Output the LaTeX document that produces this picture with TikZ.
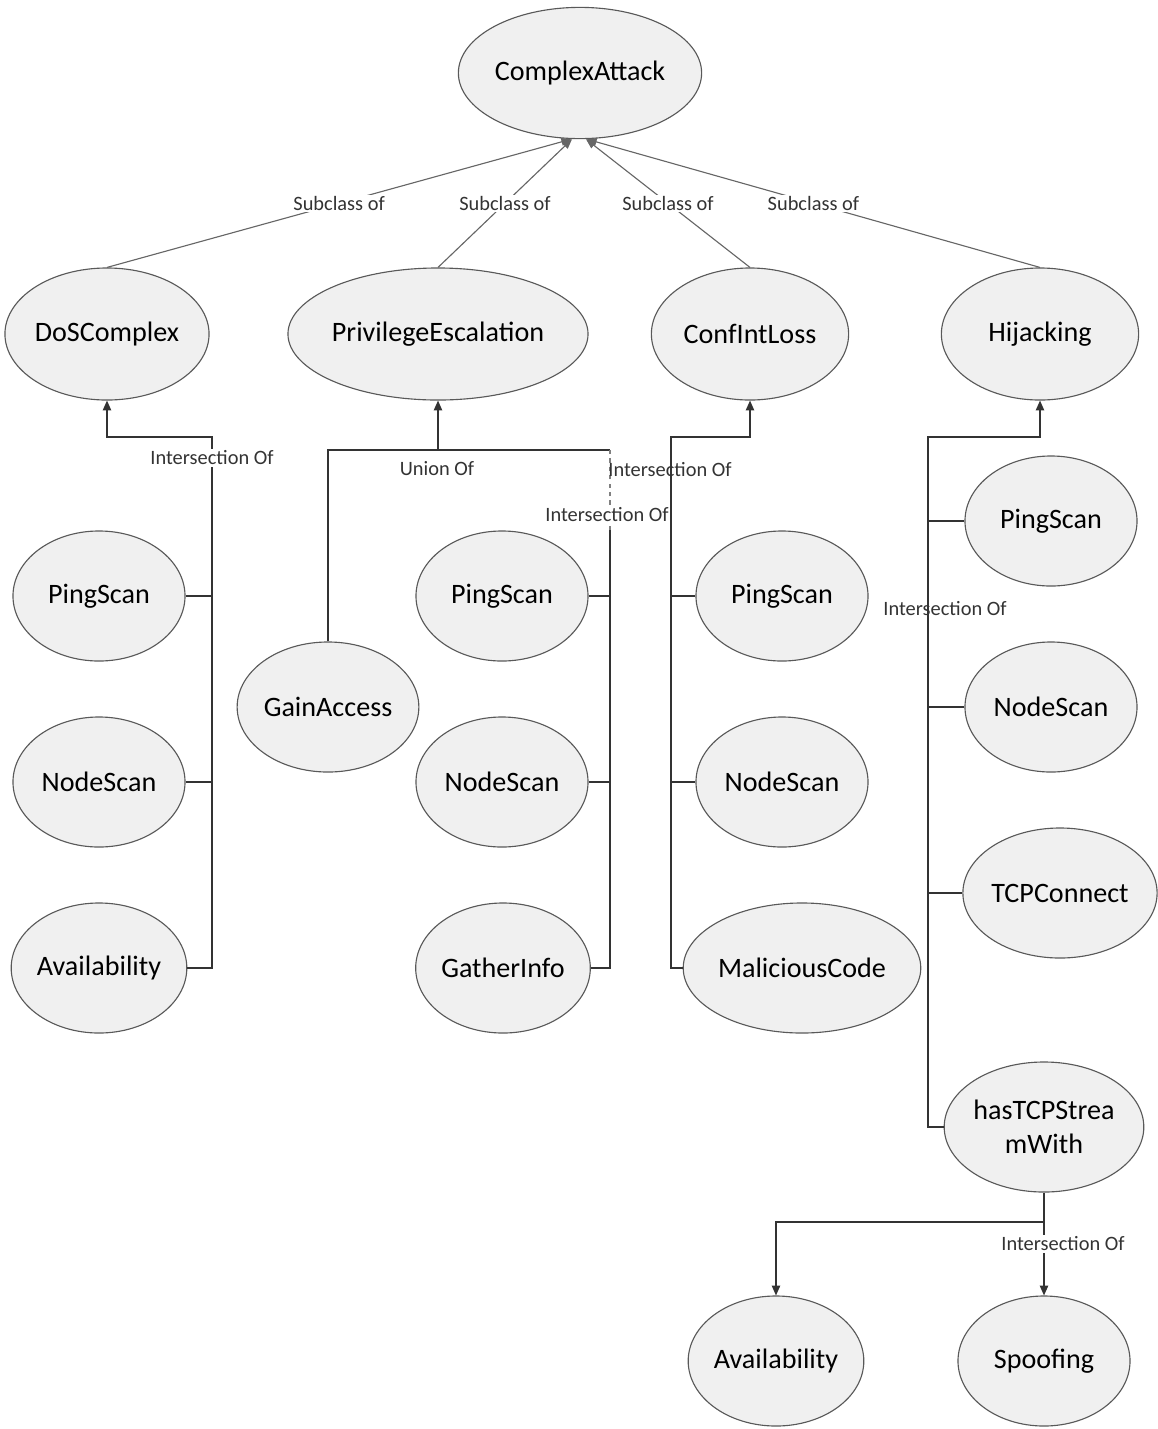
\documentclass[tikz,border=0pt]{standalone}
\usepackage{fontspec}
\setmainfont{Carlito}
\usetikzlibrary{shapes.geometric,calc,positioning,arrows.meta}

\begin{document}
\begin{tikzpicture}[
    x={(0.025cm,0)}, y={(0,-0.025cm)},
    cls/.style={ellipse, draw=black!65, line width=0.8pt, fill=gray!12, inner sep=0pt,
        minimum width=4.3cm, minimum height=3.25cm, align=center, font=\fontsize{20}{24}\selectfont},
    link/.style={draw=black!80, line width=0.8pt},
    arrow/.style={link, -{Triangle[length=7pt,width=6pt]}},
    subarrow/.style={draw=black!60, line width=0.8pt, -{Triangle[length=7pt,width=5.5pt]}},
    lbl/.style={fill=white, inner sep=1pt, font=\fontsize{14.5}{16}\selectfont, text=black!80}
]
    \useasboundingbox (0,0) rectangle (1158,1429);

    % Top class
    \node[cls, minimum width=6.08cm, minimum height=3.28cm] (ca) at (580,73) {ComplexAttack};

    % Subclasses
    \node[cls, minimum width=4.93cm, minimum height=3.3cm] (dos) at (107,334) {DoSComplex};
    \node[cls, minimum width=7.1cm, minimum height=3.3cm] (priv) at (438,334) {PrivilegeEscalation};
    \node[cls, minimum width=4.93cm, minimum height=3.3cm] (conf) at (750,334) {ConfIntLoss};
    \node[cls, minimum width=4.93cm, minimum height=3.3cm] (hij) at (1040,334) {Hijacking};

    \draw[subarrow] (dos.north) -- ([xshift=-0.22cm]ca.south) node[midway, lbl] {Subclass of};
    \draw[subarrow] (priv.north) -- ([xshift=-0.2cm]ca.south) node[midway, lbl] {Subclass of};
    \draw[subarrow] (conf.north) -- ([xshift=0.15cm]ca.south) node[midway, lbl] {Subclass of};
    \draw[subarrow] (hij.north) -- ([xshift=0.17cm]ca.south) node[midway, lbl] {Subclass of};

    % DoSComplex parts
    \node[cls] (ping1) at (99,596) {PingScan};
    \node[cls] (node1) at (99,782) {NodeScan};
    \node[cls] (avail1) at (99,968) {Availability};
    \coordinate (dosj) at (212,437);
    \draw[arrow] (avail1.east) -| (dosj) -| (dos.south);
    \draw[link] (ping1.east) -- (ping1.east -| dosj);
    \draw[link] (node1.east) -- (node1.east -| dosj);
    \node[lbl] at (212,458) {Intersection Of};

    % PrivilegeEscalation parts
    \node[cls, minimum width=4.35cm] (gain) at (328,707) {GainAccess};
    \node[cls] (ping2) at (502,596) {PingScan};
    \node[cls] (node2) at (502,782) {NodeScan};
    \node[cls] (gather) at (503,968) {GatherInfo};
    \coordinate (unionr) at (610,450);
    \coordinate (interb) at (610,530);
    \draw[link] (gain.north) |- (unionr);
    \draw[arrow] (priv.south |- unionr) -- (priv.south);
    \draw[link] (gather.east) -| (interb);
    \draw[link, dashed, draw=black!50] (interb) -- (unionr);
    \draw[link] (ping2.east) -- (ping2.east -| unionr);
    \draw[link] (node2.east) -- (node2.east -| unionr);
    \node[lbl] at (437,469) {Union Of};
    \node[lbl] at (607,515) {Intersection Of};

    % ConfIntLoss parts
    \node[cls] (ping3) at (782,596) {PingScan};
    \node[cls] (node3) at (782,782) {NodeScan};
    \node[cls, minimum width=5.65cm] (malic) at (802,968) {MaliciousCode};
    \coordinate (confj) at (671,437);
    \draw[arrow] (malic.west) -| (confj) -| (conf.south);
    \draw[link] (ping3.west) -- (ping3.west -| confj);
    \draw[link] (node3.west) -- (node3.west -| confj);
    \node[lbl, fill=none] at (670,470) {Intersection Of};

    % Hijacking parts
    \node[cls] (ping4) at (1051,521) {PingScan};
    \node[cls] (node4) at (1051,707) {NodeScan};
    \node[cls, minimum width=4.85cm] (tcpc) at (1060,893) {TCPConnect};
    \node[cls, minimum width=4.7cm] (stream) at (1044,1127) {hasTCPStrea\\mWith};
    \coordinate (hijj) at (928,437);
    \draw[arrow] (stream.west) -| (hijj) -| (hij.south);
    \draw[link] (ping4.west) -- (ping4.west -| hijj);
    \draw[link] (node4.west) -- (node4.west -| hijj);
    \draw[link] (tcpc.west) -- (tcpc.west -| hijj);
    \node[lbl, fill=none] at (945,609) {Intersection Of};

    % hasTCPStreamWith parts
    \node[cls] (avail2) at (776,1361) {Availability};
    \node[cls] (spoof) at (1044,1361) {Spoofing};
    \coordinate (streamj) at (1044,1222);
    \draw[link] (stream.south) -- (streamj);
    \draw[arrow] (streamj) -| (avail2.north);
    \draw[arrow] (streamj) -- (spoof.north);
    \node[lbl] at (1063,1244) {Intersection Of};
\end{tikzpicture}
\end{document}
